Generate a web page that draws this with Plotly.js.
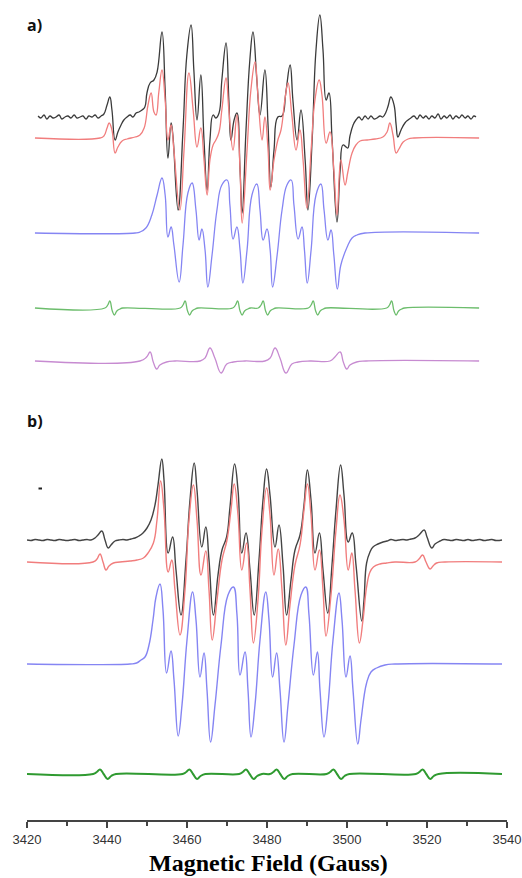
<!DOCTYPE html>
<html>
<head>
<meta charset="utf-8">
<script src="https://cdn.plot.ly/plotly-3.0.1.min.js"></script>
<style>html,body{margin:0;padding:0;background:#fff;}#chart{width:522px;height:878px;}</style>
</head>
<body>
<div id="chart"></div>
<script>
// ---------- DATA: [field (G), intensity (a.u., relative to own baseline)] ----------
// Panel a) experimental spectrum
const expA = [[3418.6,1],[3419.4,-1],[3420.3,2],[3421.1,-2],[3422.0,1],[3422.9,-1],[3423.7,0],[3424.6,2],[3425.4,-2],[3426.3,0],[3427.1,1],[3428.0,-1],[3428.9,2],[3429.7,-1],[3430.6,0],[3431.4,1],[3432.3,-2],[3433.1,1],[3434.0,0],[3434.9,2],[3435.7,-1],[3436.6,1],[3437.4,3],[3438.3,12],[3439.1,20],[3439.7,7],[3440.6,-23],[3441.4,-15],[3442.3,-8],[3443.1,-3],[3444.0,0],[3444.9,2],[3445.7,0],[3446.6,4],[3447.4,5],[3448.3,7],[3449.1,10],[3449.7,24],[3450.6,34],[3451.7,37],[3452.6,45],[3454.0,85],[3454.9,27],[3455.7,-41],[3456.6,-6],[3457.1,-18],[3458.6,-93],[3460.0,-13],[3461.1,62],[3462.3,92],[3463.1,47],[3464.0,-3],[3465.1,42],[3466.0,-23],[3466.9,-73],[3467.7,-23],[3468.6,2],[3469.4,-1],[3470.3,4],[3471.1,37],[3472.3,74],[3473.1,17],[3473.7,-23],[3474.6,-3],[3475.4,4],[3476.3,-53],[3476.9,-96],[3478.0,-13],[3479.1,57],[3480.0,85],[3481.1,37],[3482.0,2],[3483.4,47],[3484.3,-8],[3485.1,-70],[3486.0,-33],[3487.1,0],[3488.3,1],[3489.4,25],[3490.6,52],[3491.4,17],[3492.6,-23],[3493.7,7],[3494.9,-43],[3495.7,-93],[3496.9,-23],[3498.0,67],[3499.1,102],[3500.0,67],[3500.9,17],[3501.7,24],[3502.6,-23],[3504.0,-105],[3504.9,-53],[3505.7,-28],[3506.6,-30],[3507.1,-31],[3507.7,-19],[3508.6,-8],[3509.4,-3],[3510.3,0],[3511.1,-3],[3512.0,1],[3512.9,-2],[3513.7,1],[3514.6,-2],[3515.4,-1],[3516.3,1],[3517.1,0],[3518.0,5],[3518.6,11],[3519.4,20],[3520.3,12],[3520.9,-8],[3521.4,-20],[3522.3,-13],[3523.4,-6],[3524.3,-3],[3525.1,-1],[3526.0,1],[3526.9,-2],[3527.7,2],[3528.6,-1],[3529.4,1],[3530.3,-2],[3531.1,1],[3532.0,-1],[3532.9,3],[3533.7,-2],[3534.6,1],[3535.4,-1],[3536.3,2],[3537.1,-2],[3538.0,1],[3538.9,-1],[3539.7,2],[3540.6,-1],[3541.4,1],[3542.3,-2],[3543.1,1],[3543.7,0]];
// Panel a) total simulation
const simA = [[3417.7,0],[3436.3,0],[3437.4,2],[3438.3,10],[3438.9,15],[3439.7,8],[3440.6,-15],[3441.4,-9],[3442.6,-3],[3444.0,-1],[3446.3,1],[3447.7,3],[3448.9,10],[3450.0,33],[3450.9,45],[3451.7,26],[3452.3,23],[3453.1,46],[3454.0,68],[3454.9,38],[3455.7,-2],[3456.6,13],[3457.4,-12],[3459.1,-72],[3460.3,-12],[3461.7,65],[3462.9,28],[3464.0,-9],[3465.1,10],[3466.0,-22],[3466.9,-57],[3467.7,-22],[3468.6,-7],[3469.4,-2],[3470.3,6],[3471.1,28],[3472.3,60],[3473.1,28],[3474.3,-12],[3475.4,23],[3476.3,-32],[3476.9,-85],[3478.3,-12],[3479.4,48],[3480.6,76],[3481.4,43],[3482.6,-2],[3483.4,21],[3484.3,-12],[3484.9,-52],[3486.0,-22],[3487.1,-2],[3488.0,8],[3489.1,38],[3490.0,55],[3491.1,23],[3492.3,-12],[3493.4,8],[3494.3,-22],[3495.4,-70],[3496.6,-12],[3497.7,38],[3498.9,58],[3499.7,43],[3500.9,-5],[3502.0,6],[3503.1,-32],[3504.0,-77],[3505.1,-22],[3506.3,-47],[3507.1,-34],[3508.3,-15],[3509.4,-7],[3510.6,-3],[3512.6,-2],[3514.9,-1],[3517.1,1],[3518.3,6],[3519.1,15],[3520.0,3],[3520.9,-15],[3521.7,-11],[3522.9,-4],[3524.3,-1],[3526.0,0],[3544.6,0]];
// Panel a) component 1 (blue)
const compA1 = [[3417.7,0],[3446.3,0],[3447.7,1],[3449.4,5],[3451.1,18],[3452.6,38],[3454.0,55],[3454.9,38],[3455.7,-4],[3456.6,6],[3457.4,-12],[3458.9,-49],[3460.0,-12],[3461.4,40],[3462.6,50],[3463.7,23],[3464.6,-7],[3465.4,4],[3466.3,-17],[3467.1,-54],[3468.3,-22],[3469.7,23],[3471.1,48],[3472.6,53],[3473.4,28],[3474.3,-6],[3475.4,6],[3476.3,-17],[3477.1,-50],[3478.3,-17],[3479.7,38],[3481.1,49],[3482.0,23],[3482.9,-7],[3484.0,4],[3484.9,-17],[3485.6,-54],[3486.9,-22],[3488.3,23],[3489.7,48],[3490.9,53],[3491.7,28],[3492.9,-6],[3494.0,6],[3494.7,-17],[3495.5,-50],[3496.6,-17],[3498.0,38],[3499.4,49],[3500.3,23],[3501.4,-7],[3502.3,3],[3503.1,-22],[3504.1,-56],[3505.1,-32],[3506.9,-14],[3508.3,-5],[3509.7,-2],[3512.0,0],[3544.6,0]];
// Panel a) component 2 (green)
const compA2 = [[3417.7,0],[3437.7,0],[3438.5,3],[3439.1,7],[3439.8,-3],[3440.4,-7],[3441.1,-3],[3442.0,-1],[3442.8,0],[3459.2,0],[3460.0,3],[3460.6,7],[3461.3,-3],[3461.9,-7],[3462.6,-3],[3463.5,-1],[3464.3,0],[3474.2,0],[3475.0,3],[3475.6,7],[3476.3,-3],[3476.9,-7],[3477.6,-3],[3478.5,-1],[3479.3,0],[3481.5,0],[3482.3,3],[3482.9,7],[3483.6,-3],[3484.2,-7],[3484.9,-3],[3485.8,-1],[3486.6,0],[3495.8,0],[3496.6,3],[3497.2,7],[3497.9,-3],[3498.5,-7],[3499.2,-3],[3500.1,-1],[3500.9,0],[3518.2,0],[3519.0,3],[3519.6,7],[3520.3,-3],[3520.9,-7],[3521.6,-3],[3522.5,-1],[3523.3,0],[3544.6,0]];
// Panel a) component 3 (purple)
const compA3 = [[3417.7,0],[3447.7,0],[3449.6,4],[3450.6,9],[3451.5,-1],[3452.5,-8],[3453.4,-4],[3455.3,-1],[3457.7,0],[3464.9,0],[3466.3,3],[3467.7,13],[3469.1,3],[3470.9,-12],[3472.5,-3],[3474.4,-1],[3477.7,0],[3483.4,0],[3484.9,3],[3486.3,13],[3487.7,3],[3489.4,-12],[3491.1,-3],[3492.9,-1],[3496.3,0],[3502.0,0],[3503.4,4],[3504.9,9],[3505.8,-1],[3506.8,-8],[3507.7,-4],[3509.6,-1],[3512.3,0],[3544.6,0]];

// Panel b) experimental spectrum
const expB = [[3420.0,0],[3421.0,-0.5],[3422.0,0.5],[3423.0,0],[3424.0,-0.5],[3425.0,0.5],[3426.0,0],[3427.0,-0.5],[3428.0,0.5],[3429.0,0],[3430.0,-0.5],[3431.0,0],[3432.0,0.5],[3433.0,-0.5],[3434.0,0],[3435.0,0.5],[3436.0,0],[3437.0,2],[3437.75,5],[3438.7,9],[3439.5,0],[3440.3,-8],[3441.0,-5],[3442.0,-1],[3443.0,0],[3444.0,0.5],[3445.0,0],[3446.0,1],[3447.0,2],[3448.0,4],[3449.0,7],[3450.0,12],[3451.0,20],[3452.0,35],[3452.75,55],[3453.7,81],[3454.25,60],[3455.3,-13],[3456.4,3],[3457.25,-30],[3458.5,-75],[3459.75,-20],[3460.75,40],[3461.8,77],[3462.5,50],[3463.7,-7],[3464.7,13],[3465.5,-20],[3466.6,-75],[3467.75,-35],[3468.75,-10],[3469.9,3],[3470.75,33],[3471.9,76],[3472.75,50],[3473.7,-13],[3474.75,7],[3475.75,-30],[3476.8,-75],[3478.0,-20],[3479.0,40],[3479.9,71],[3480.75,45],[3482.0,-7],[3483.0,15],[3484.0,-25],[3484.9,-75],[3486.0,-40],[3487.0,-10],[3488.25,5],[3489.25,35],[3490.1,70],[3491.0,40],[3492.0,-13],[3493.1,7],[3494.0,-30],[3495.2,-73],[3496.25,-25],[3497.25,30],[3498.4,75],[3499.25,45],[3500.3,-2],[3501.3,7],[3502.25,-25],[3503.7,-81],[3504.25,-60],[3504.9,-23],[3505.75,-12],[3506.5,-7],[3507.75,-4],[3509.0,-2],[3510.0,-1],[3511.0,0.5],[3512.0,-0.5],[3513.0,0],[3514.0,0.5],[3515.0,0],[3516.0,1],[3517.0,2],[3518.0,5],[3519.3,10],[3520.0,3],[3521.2,-8],[3522.0,-4],[3523.25,-1],[3524.25,0.5],[3525.25,0],[3526.25,-0.5],[3527.25,0.5],[3528.25,0],[3529.25,-0.5],[3530.25,0.5],[3531.25,-0.5],[3532.25,0],[3533.25,0.5],[3534.25,-0.5],[3535.25,0],[3536.25,0.5],[3537.25,-0.5],[3538.75,0]];
// Panel b) total simulation
const simB = [[3420.0,0],[3436.5,0],[3437.5,3],[3438.25,8],[3439.0,0],[3439.75,-8],[3440.5,-4],[3441.6,-1],[3443.25,0],[3445.75,1],[3447.5,2],[3449.1,4],[3450.25,9],[3451.6,19],[3452.5,42],[3453.4,81],[3454.25,52],[3455.3,-10],[3456.2,2],[3457.0,-28],[3458.25,-73],[3459.5,-28],[3460.5,42],[3461.6,77],[3462.5,42],[3463.5,-13],[3464.7,11],[3465.5,-28],[3466.3,-78],[3467.5,-38],[3468.75,2],[3470.0,22],[3471.0,52],[3471.8,78],[3472.75,47],[3473.7,-8],[3474.9,19],[3475.75,-28],[3476.6,-81],[3477.75,-38],[3478.75,32],[3479.9,74],[3480.75,47],[3481.75,-13],[3482.8,13],[3483.75,-28],[3484.7,-83],[3485.75,-43],[3487.0,-3],[3488.25,17],[3489.25,52],[3490.1,78],[3491.0,47],[3492.0,-8],[3493.1,12],[3494.0,-28],[3494.75,-74],[3496.0,-33],[3497.25,32],[3498.25,67],[3499.25,42],[3500.3,-8],[3501.2,9],[3502.0,-28],[3503.1,-81],[3504.0,-58],[3504.9,-25],[3505.75,-10],[3506.6,-5],[3508.25,-2],[3509.9,-1],[3512.0,0],[3517.0,0],[3518.0,3],[3518.9,7],[3519.75,0],[3520.75,-7],[3521.5,-4],[3522.4,-1],[3524.5,0],[3538.75,0]];
// Panel b) component 1 (blue)
const compB1 = [[3420.0,0],[3445.75,0],[3447.4,1],[3448.5,4],[3449.5,7],[3450.5,19],[3451.5,44],[3452.25,67],[3453.25,80],[3454.0,54],[3454.9,-9],[3456.0,13],[3456.75,-16],[3457.8,-72],[3458.75,-41],[3460.0,24],[3461.4,72],[3462.25,44],[3463.25,-13],[3464.25,11],[3465.0,-26],[3465.9,-78],[3467.0,-41],[3468.5,19],[3470.25,69],[3471.6,77],[3472.5,49],[3473.25,-11],[3474.5,12],[3475.25,-26],[3476.0,-73],[3477.0,-41],[3478.25,24],[3479.7,72],[3480.5,44],[3481.4,-13],[3482.4,11],[3483.25,-26],[3484.25,-78],[3485.25,-41],[3486.75,19],[3488.5,69],[3489.7,77],[3490.5,49],[3491.6,-11],[3492.6,12],[3493.25,-26],[3494.25,-73],[3495.25,-41],[3496.5,24],[3498.0,71],[3498.75,44],[3499.75,-13],[3500.75,8],[3501.5,-26],[3502.7,-80],[3503.5,-56],[3504.9,-19],[3506.0,-8],[3507.4,-4],[3509.5,-1],[3512.0,0],[3538.75,0]];
// Panel b) component 2 (green)
const compB2 = [[3420.0,0],[3436.55,0],[3437.45,2],[3438.25,4.5],[3439.15,0],[3440.15,-5],[3441.05,-2],[3442.25,0],[3458.9,0],[3459.8,2],[3460.6,4.5],[3461.5,0],[3462.5,-5],[3463.4,-2],[3464.6,0],[3473.05,0],[3473.95,2],[3474.75,4.5],[3475.65,0],[3476.65,-5],[3477.55,-2],[3478.75,0],[3480.7,0],[3481.6,2],[3482.4,4.5],[3483.3,0],[3484.3,-5],[3485.2,-2],[3486.4,0],[3494.9,0],[3495.8,2],[3496.6,4.5],[3497.5,0],[3498.5,-5],[3499.4,-2],[3500.6,0],[3517.2,0],[3518.1,2],[3518.9,4.5],[3519.8,0],[3520.8,-5],[3521.7,-2],[3522.9,0],[3538.75,0]];

const xTicks = [3420, 3440, 3460, 3480, 3500, 3520, 3540];
const panelLabels = ['a)', 'b)'];
const axisTitle = 'Magnetic Field (Gauss)';

// ---------- STYLE / LAYOUT (positions are presentation, not data) ----------
const W = 522, H = 878, ML = 27, MR = 15, MT = 0, MB = 58;
const plotH = H - MT - MB;
const stack = [
  {d: expA,   axis: 'x2', off: -117, color: '#3b3b3b', w: 1.3},
  {d: simA,   axis: 'x2', off: -138, color: '#f17d7d', w: 1.3},
  {d: compA1, axis: 'x2', off: -233, color: '#8585f3', w: 1.3},
  {d: compA2, axis: 'x2', off: -308, color: '#6cbd6c', w: 1.3},
  {d: compA3, axis: 'x2', off: -361, color: '#c78bd1', w: 1.3},
  {d: expB,   axis: 'x',  off: -540, color: '#444444', w: 1.4},
  {d: simB,   axis: 'x',  off: -562, color: '#f17d7d', w: 1.4},
  {d: compB1, axis: 'x',  off: -664, color: '#8585f3', w: 1.4},
  {d: compB2, axis: 'x',  off: -774, color: '#2f9a30', w: 2.0}
];

const traces = stack.map(s => ({
  type: 'scatter', mode: 'lines',
  x: s.d.map(p => p[0]),
  y: s.d.map(p => p[1] + s.off),
  xaxis: s.axis, yaxis: 'y',
  line: {color: s.color, width: s.w, shape: 'spline', smoothing: 1.25},
  hoverinfo: 'skip'
}));

const pxX = px => (px - ML) / (W - ML - MR);
const pxY = py => (plotH - (py - MT)) / plotH;

const layout = {
  width: W, height: H,
  margin: {l: ML, r: MR, t: MT, b: MB, pad: 0},
  paper_bgcolor: '#ffffff', plot_bgcolor: '#ffffff',
  showlegend: false,
  xaxis: {
    range: [3419.999, 3540.001], domain: [0, 1], anchor: 'y',
    tickmode: 'array', tickvals: xTicks, ticktext: xTicks.map(String),
    ticks: 'outside', ticklen: 6, tickwidth: 1.3, tickcolor: '#444',
    ticklabelstandoff: 1, ticklabeloverflow: 'allow',
    showline: true, linecolor: '#444', linewidth: 1.5,
    showgrid: false, zeroline: false,
    tickfont: {family: 'Liberation Sans, Arial, sans-serif', size: 13, color: '#333'},
    minor: {tickmode: 'linear', dtick: 10, tick0: 3420, ticks: 'outside', ticklen: 4, tickwidth: 1.3, tickcolor: '#444', showgrid: false}
  },
  xaxis2: {range: [3415.43, 3552.57], overlaying: 'x', anchor: 'y', visible: false},
  yaxis: {range: [-plotH, 0], visible: false, fixedrange: true},
  annotations: [
    {text: '<b>' + axisTitle + '</b>', xref: 'paper', yref: 'paper', x: pxX(268), y: pxY(863),
     xanchor: 'center', yanchor: 'middle', showarrow: false,
     font: {family: 'Liberation Serif, Times New Roman, serif', size: 24, color: '#000'}},
    {text: '<b>' + panelLabels[0] + '</b>', xref: 'paper', yref: 'paper', x: pxX(34), y: pxY(25),
     xanchor: 'center', yanchor: 'middle', showarrow: false,
     font: {family: 'Open Sans, Liberation Sans, sans-serif', size: 16, color: '#111'}},
    {text: '<b>' + panelLabels[1] + '</b>', xref: 'paper', yref: 'paper', x: pxX(35), y: pxY(421),
     xanchor: 'center', yanchor: 'middle', showarrow: false,
     font: {family: 'Open Sans, Liberation Sans, sans-serif', size: 16, color: '#111'}}
  ],
  shapes: [
    {type: 'line', xref: 'paper', yref: 'paper', x0: pxX(38.5), x1: pxX(42), y0: pxY(488.5), y1: pxY(488.5),
     line: {color: '#222', width: 2}}
  ]
};

Plotly.newPlot('chart', traces, layout, {staticPlot: true, displayModeBar: false});
</script>
</body>
</html>
